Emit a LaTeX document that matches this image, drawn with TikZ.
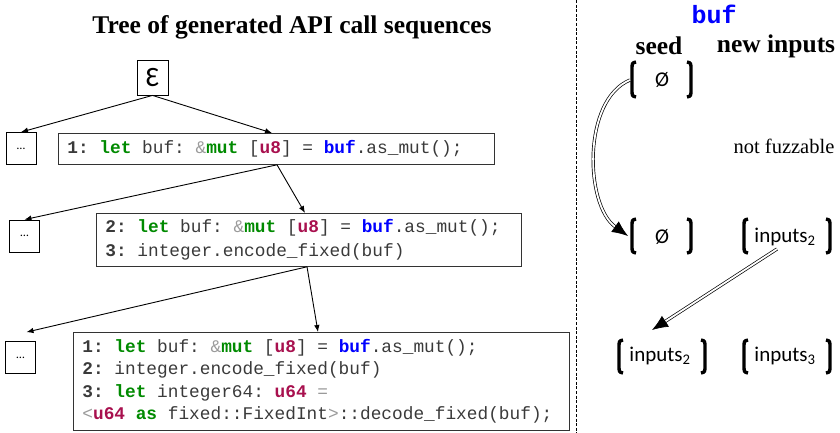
\documentclass[tikz,border=0pt]{standalone}
\usepackage{fontspec}
\setmainfont{Liberation Serif}
\setmonofont{Liberation Mono}
\newfontfamily\calfont{Carlito}
\usetikzlibrary{arrows.meta}
\definecolor{codegray}{HTML}{3A3A3A}
\definecolor{lightg}{HTML}{9A9A9A}
\definecolor{kwgreen}{HTML}{008A00}
\definecolor{tyred}{HTML}{A8104E}
\definecolor{bufblue}{HTML}{0000FF}
\newcommand\kw[1]{\textbf{\color{kwgreen}#1}}
\newcommand\ty[1]{\textbf{\color{tyred}#1}}
\newcommand\bb[1]{\textbf{\color{bufblue}#1}}
\newcommand\lnum[1]{\textbf{#1}}
\newcommand\lgr[1]{{\color{lightg}#1}}
\newcommand\csp{\hspace*{0.6em}}
\newcommand\codefont[1]{\ttfamily\fontsize{17.8}{#1}\selectfont}
\tikzset{
  codebox/.style={draw=black!80, line width=0.8pt, align=left, anchor=north west,
    inner xsep=9pt, text=codegray},
  dotbox/.style={draw, line width=0.8pt, minimum width=30pt, minimum height=32pt,
    inner sep=0pt, font=\calfont\fontsize{12}{12}\selectfont},
  epsbox/.style={draw, line width=0.8pt, minimum width=31pt, minimum height=35pt,
    inner sep=0pt, font=\calfont\fontsize{28}{28}\selectfont},
  treearrow/.style={line width=0.9pt, -{Latex[length=7pt,width=5.5pt]}},
  dblarrow/.style={double, double distance=1.8pt, line width=0.7pt,
    -{Latex[length=16pt,width=13pt]}},
  brak/.style={line width=3.4pt},
  settext/.style={font=\calfont\fontsize{21}{21}\selectfont, inner sep=0pt},
  head/.style={font=\fontsize{25.5}{28}\selectfont\bfseries, inner sep=0pt},
}
\newcommand\lbrak[3]{\draw[brak] (#1+4,#2) .. controls (#1,#2+1) .. (#1,#2+8) -- (#1,#3-8) .. controls (#1,#3-1) .. (#1+4,#3);}
\newcommand\rbrak[3]{\draw[brak] (#1-4,#2) .. controls (#1,#2+1) .. (#1,#2+8) -- (#1,#3-8) .. controls (#1,#3-1) .. (#1-4,#3);}
\begin{document}
\begin{tikzpicture}[x=1pt,y=-1pt]
\useasboundingbox (0,0) rectangle (840,433);

% ---- left: tree ----
\node[head] (title) at (292,27) {Tree of generated API call sequences};
\node[epsbox] (eps) at (152.5,77.5) {Ɛ};

\node[dotbox] (d1) at (21,148.5) {…};
\node[codebox, text width=418pt, minimum height=31pt, font=\codefont{23}] (b1) at (58,133)
  {\lnum{1:}\csp\kw{let}\csp buf:\csp\lgr{\&}\kw{mut}\csp[\ty{u8}]\csp=\csp\bb{buf}.as\_mut();};

\node[dotbox] (d2) at (24.5,236) {…};
\node[codebox, text width=407pt, minimum height=53pt, font=\codefont{23.5}] (b2) at (96,213)
  {\lnum{2:}\csp\kw{let}\csp buf:\csp\lgr{\&}\kw{mut}\csp[\ty{u8}]\csp=\csp\bb{buf}.as\_mut();\\
   \lnum{3:}\csp integer.encode\_fixed(buf)};

\node[dotbox] (d3) at (20.5,357.5) {…};
\node[codebox, text width=478pt, minimum height=98pt, font=\codefont{22.5}] (b3) at (73,332)
  {\lnum{1:}\csp\kw{let}\csp buf:\csp\lgr{\&}\kw{mut}\csp[\ty{u8}]\csp=\csp\bb{buf}.as\_mut();\\
   \lnum{2:}\csp integer.encode\_fixed(buf)\\
   \lnum{3:}\csp\kw{let}\csp integer64:\csp\ty{u64}\csp\lgr{=}\\
   \lgr{<}\ty{u64}\csp\kw{as}\csp fixed::FixedInt\lgr{>}::decode\_fixed(buf);};

\draw[treearrow] (eps.south) -- (d1.north);
\draw[treearrow] (eps.south) -- ([xshift=214pt]b1.north west);
\draw[treearrow] ([xshift=219pt]b1.south west) -- (d2.north);
\draw[treearrow] ([xshift=219pt]b1.south west) -- ([xshift=209pt]b2.north west);
\draw[treearrow] ([xshift=211pt]b2.south west) -- ([xshift=6pt,yshift=9pt]d3.north);
\draw[treearrow] ([xshift=211pt]b2.south west) -- ([xshift=245pt]b3.north west);

% ---- divider ----
\coordinate (dtop) at (576.5,0);
\coordinate (dbot) at (576.5,433);
\draw[line width=1.3pt, dash pattern=on 3pt off 1.6pt] (dtop) -- (dbot);

% ---- right: buf seeds ----
\node[font=\ttfamily\bfseries\fontsize{25}{25}\selectfont, text=bufblue, inner sep=0pt] (buf) at (714,14) {buf};
\node[head] (seed) at (659,46) {seed};
\node[head] (newin) at (776,46) {new inputs};
\node[font=\fontsize{20.5}{22}\selectfont, inner sep=0pt] (nf) at (784,146) {not fuzzable};

\node[settext] (s1) at (662,80) {Ø};
\lbrak{632}{62}{97}\rbrak{691}{62}{97}

\node[settext] (s2) at (662,237) {Ø};
\lbrak{632}{219}{253}\rbrak{691}{219}{253}
\node[settext] (n2) at (785,237) {inputs\textsubscript{2}};
\lbrak{744}{219}{253}\rbrak{830}{219}{253}

\node[settext] (s3) at (660,356) {inputs\textsubscript{2}};
\lbrak{619}{340}{373}\rbrak{705}{340}{373}
\node[settext] (n3) at (785,356) {inputs\textsubscript{3}};
\lbrak{744}{340}{373}\rbrak{830}{340}{373}

\draw[dblarrow] ([xshift=-32pt]s1.center) .. controls +(-48,20) and +(-43,-31) .. ([xshift=-34pt,yshift=1pt]s2.center);
\draw[dblarrow] ([xshift=-8pt,yshift=-12pt]n2.center) -- ([xshift=-8pt,yshift=26pt]s3.center);
\end{tikzpicture}
\end{document}
